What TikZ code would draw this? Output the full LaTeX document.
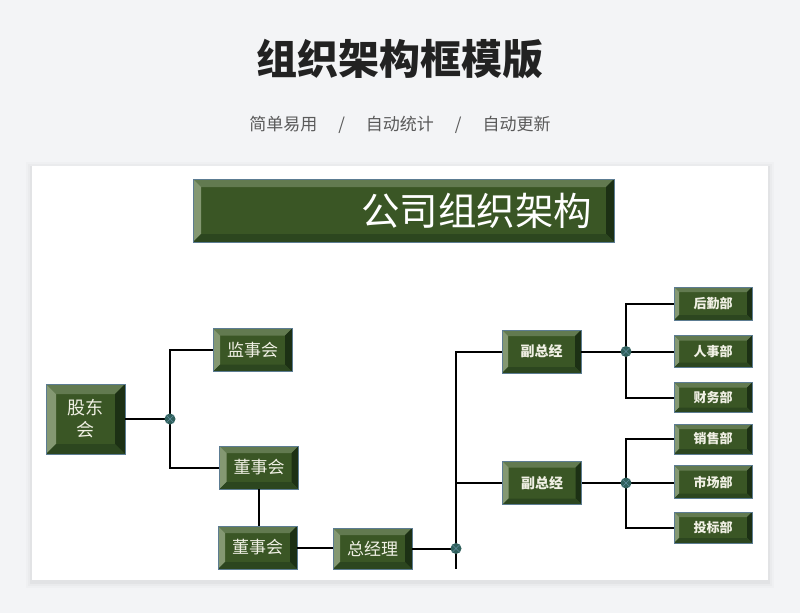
\documentclass[tikz,border=0pt]{standalone}
\usepackage{fontspec}
\setmainfont{Noto Sans CJK SC}
\usetikzlibrary{calc}

\definecolor{pagebg}{RGB}{243,244,246}
\definecolor{bvface}{RGB}{58,86,37}
\definecolor{bvtop}{RGB}{98,122,80}
\definecolor{bvleft}{RGB}{132,152,114}
\definecolor{bvright}{RGB}{28,48,20}
\definecolor{bvbottom}{RGB}{44,70,31}
\definecolor{bvline}{RGB}{92,124,146}
\definecolor{bvtext}{RGB}{240,240,228}
\definecolor{jfill}{RGB}{48,96,92}
\definecolor{jcross}{RGB}{96,140,156}

\tikzset{
  bev/.style={draw=bvline, line width=0.7pt, fill=bvface, text=bvtext,
    inner sep=0pt, align=center,
    path picture={
      \coordinate (bvsw) at (path picture bounding box.south west);
      \coordinate (bvne) at (path picture bounding box.north east);
      \coordinate (bvnw) at (path picture bounding box.north west);
      \coordinate (bvse) at (path picture bounding box.south east);
      \coordinate (bvisw) at ([shift={(#1,#1)}]bvsw);
      \coordinate (bvine) at ([shift={(-#1,-#1)}]bvne);
      \coordinate (bvinw) at ([shift={(#1,-#1)}]bvnw);
      \coordinate (bvise) at ([shift={(-#1,#1)}]bvse);
      \fill[bvtop] (bvnw) -- (bvne) -- (bvine) -- (bvinw) -- cycle;
      \fill[bvleft] (bvnw) -- (bvinw) -- (bvisw) -- (bvsw) -- cycle;
      \fill[bvright] (bvne) -- (bvse) -- (bvise) -- (bvine) -- cycle;
      \fill[bvbottom] (bvsw) -- (bvse) -- (bvise) -- (bvisw) -- cycle;
    }},
  bev/.default=7pt,
  midbox/.style={bev, minimum width=79pt, minimum height=43pt,
    font=\fontsize{17pt}{20pt}\selectfont},
  vpbox/.style={bev=6pt, minimum width=79pt, minimum height=43pt,
    font=\bfseries\fontsize{14pt}{16pt}\selectfont},
  depbox/.style={bev=5pt, minimum width=78pt, minimum height=32pt,
    font=\bfseries\fontsize{13pt}{15pt}\selectfont},
  link/.style={draw=black, line width=2pt},
  jdot/.style={circle, fill=jfill, minimum size=11pt, inner sep=0pt,
    path picture={
      \draw[jcross, line width=0.6pt]
        (path picture bounding box.north west) -- (path picture bounding box.south east)
        (path picture bounding box.north east) -- (path picture bounding box.south west);
    }},
}

\begin{document}
\begin{tikzpicture}[x=1pt,y=-1pt]
\useasboundingbox (0,0) rectangle (800,613);
\fill[pagebg] (0,0) rectangle (800,613);

% card
\foreach \s/\o in {6/0.015,4/0.02,2/0.03}
  \fill[black, opacity=\o] (32-\s,166-\s+2) rectangle (768+\s,580+\s+2);
\fill[white] (32,166) rectangle (768,580);

% heading
\node[text={rgb,255:red,34;green,34;blue,34}, font=\bfseries\fontsize{41pt}{46pt}\selectfont]
  (head) at (400,59) {组织架构框模版};
\node[text={rgb,255:red,90;green,90;blue,90}, font=\fontsize{17pt}{20pt}\selectfont]
  (subhead) at (400,125) {简单易用\hspace{21pt}/\hspace{21pt}自动统计\hspace{21pt}/\hspace{21pt}自动更新};

% title box
\node[bev=8pt, minimum height=63pt, text width=377pt, inner xsep=22pt, align=right,
  font=\fontsize{38.5pt}{42pt}\selectfont, text=white] (title) at (403.5,210.5) {公司组织架构};

% boxes
\node[bev=10pt, minimum width=79pt, minimum height=70pt,
  font=\fontsize{18pt}{22pt}\selectfont] (gd) at (85.5,419) {股东\\会};
\node[midbox] (js) at (252.5,350) {监事会};
\node[midbox] (ds1) at (259,467.5) {董事会};
\node[midbox] (ds2) at (257.5,547.5) {董事会};
\node[midbox, minimum height=41pt] (zjl) at (372.5,548.5) {总经理};
\node[vpbox] (fz1) at (541.5,351.5) {副总经};
\node[vpbox] (fz2) at (542,483) {副总经};

\node[depbox, minimum height=33pt] (hq) at (713,303.5) {后勤部};
\node[depbox] (rs) at (713,351.5) {人事部};
\node[depbox, minimum height=30pt] (cw) at (713,397.5) {财务部};
\node[depbox, minimum height=30pt] (xs) at (713,439) {销售部};
\node[depbox, minimum height=33pt] (sc) at (713,482) {市场部};
\node[depbox, minimum height=31pt] (tb) at (713,527.5) {投标部};

% junctions
\coordinate (j1) at (170,419);
\coordinate (j2) at (456,548.5);
\coordinate (j3) at (626,351.5);
\coordinate (j4) at (626,483);
\coordinate (j2end) at (456,569);

% connectors
\draw[link] (gd.east) -- (j1);
\draw[link] (j1) |- (js.west);
\draw[link] (j1) |- (ds1.west);
\draw[link] (ds1.south) -- (ds1.south |- ds2.north);
\draw[link] (ds2.east) -- (ds2.east -| zjl.west);
\draw[link] (zjl.east) -- (j2);
\draw[link] (j2) |- (fz1.west);
\draw[link] (j2) |- (fz2.west);
\draw[link] (j2) -- (j2end);
\draw[link] (fz1.east) -- (j3);
\draw[link] (j3) |- (hq.west);
\draw[link] (j3) -- (rs.west);
\draw[link] (j3) |- (cw.west);
\draw[link] (fz2.east) -- (j4);
\draw[link] (j4) |- (xs.west);
\draw[link] (j4) -- (sc.west |- j4);
\draw[link] (j4) |- (tb.west);

\node[jdot] (j1d) at (j1) {};
\node[jdot] (j2d) at (j2) {};
\node[jdot] (j3d) at (j3) {};
\node[jdot] (j4d) at (j4) {};
\end{tikzpicture}
\end{document}
